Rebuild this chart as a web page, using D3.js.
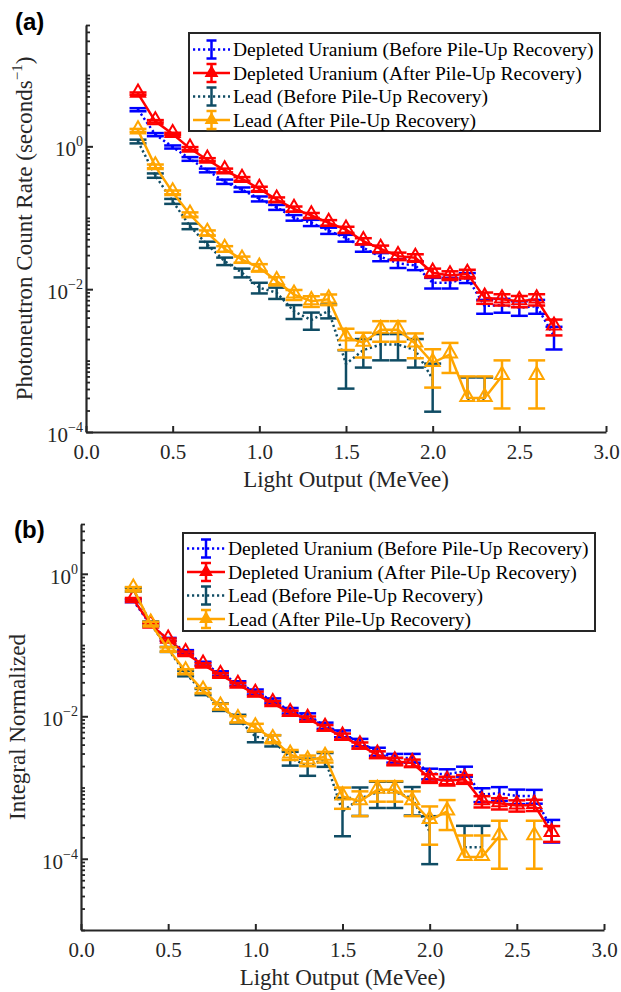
<!DOCTYPE html>
<html><head><meta charset="utf-8">
<script src="https://cdn.jsdelivr.net/npm/d3@7"></script>
<style>body{margin:0;background:#fff}svg{display:block}</style>
</head><body>
<svg id="chart" width="621" height="992"></svg>
<script>
// ---------------- DATA ----------------
const lightOutput = [0.3,0.4,0.5,0.6,0.7,0.8,0.9,1.0,1.1,1.2,1.3,1.4,1.5,1.6,1.7,1.8,1.9,2.0,2.1,2.2,2.3,2.4,2.5,2.6,2.7];

// Panel (a): photoneutron count rate (s^-1)
const duBeforeRate  = [3.26,1.46,0.98,0.667,0.46,0.32,0.248,0.184,0.14,0.10,0.085,0.066,0.052,0.038,0.0283,0.023,0.0215,0.0123,0.0123,0.0145,0.0058,0.0060,0.0055,0.0058,0.0022];
const duAfterRate   = [5.46,2.24,1.49,0.93,0.65,0.46,0.35,0.254,0.18,0.133,0.108,0.085,0.068,0.047,0.0367,0.029,0.0275,0.017,0.0156,0.0164,0.0076,0.0072,0.0068,0.0072,0.0030];
const leadBeforeRate= [1.17,0.39,0.17,0.076,0.042,0.0247,0.017,0.0105,0.0089,0.0049,0.0037,0.0050,0.0009,0.0014,0.00168,0.00168,0.0014,0.00055,null,0.00029,0.00029,null,null,null,null];
const leadAfterRate = [1.67,0.525,0.227,0.111,0.0615,0.0367,0.026,0.020,0.013,0.0084,0.0068,0.0072,0.0021,0.00178,0.0027,0.0027,0.00174,0.00093,0.00122,0.0003,0.0003,0.00061,null,0.00061,null];

// Panel (b): integral normalized
const duBeforeNorm  = [0.42,0.19,0.12,0.08,0.055,0.040,0.029,0.022,0.0165,0.012,0.010,0.0074,0.0057,0.0043,0.0032,0.0026,0.0026,0.00157,0.00154,0.00169,0.0008,0.00083,0.00076,0.00076,0.00026];
const duAfterNorm   = [0.44,0.193,0.119,0.077,0.053,0.038,0.0277,0.0207,0.0153,0.0111,0.0092,0.0069,0.0052,0.0039,0.0029,0.00233,0.0022,0.00135,0.00124,0.00131,0.00064,0.0006,0.00056,0.00057,0.00023];
const leadBeforeNorm= [0.60,0.20,0.087,0.040,0.022,0.0135,0.0092,0.0052,0.0046,0.0026,0.0020,0.0025,0.00046,0.0007,0.00086,0.00086,0.00071,0.00024,null,0.000145,0.000145,null,null,null,null];
const leadAfterNorm = [0.62,0.20,0.088,0.0427,0.023,0.0137,0.0091,0.0070,0.0048,0.0029,0.0024,0.0027,0.00075,0.00064,0.00093,0.00093,0.00064,0.00035,0.00046,0.000106,0.000106,0.000207,null,0.000207,null];

// Relative (fractional) error-bar half lengths
const duBeforeRelErr  = [0.05,0.05,0.05,0.06,0.06,0.07,0.07,0.08,0.08,0.09,0.10,0.10,0.11,0.12,0.13,0.14,0.14,0.17,0.17,0.16,0.22,0.22,0.23,0.22,0.35];
const duAfterRelErr   = [0.04,0.04,0.04,0.05,0.05,0.06,0.06,0.07,0.07,0.08,0.08,0.09,0.10,0.10,0.11,0.12,0.12,0.14,0.14,0.14,0.18,0.18,0.18,0.18,0.25];
const leadBeforeRelErr= [0.06,0.07,0.08,0.09,0.10,0.12,0.14,0.17,0.18,0.22,0.27,0.22,0.55,0.43,0.40,0.40,0.43,0.65,null,1.0,1.0,null,null,null,null];
const leadAfterRelErr = [0.05,0.06,0.06,0.07,0.08,0.09,0.10,0.12,0.13,0.16,0.17,0.17,0.33,0.38,0.32,0.32,0.38,0.55,0.45,1.0,1.0,0.65,null,0.65,null];

const seriesNames = ["Depleted Uranium (Before Pile-Up Recovery)","Depleted Uranium (After Pile-Up Recovery)","Lead (Before Pile-Up Recovery)","Lead (After Pile-Up Recovery)"];
const xTickValues = [0,0.5,1.0,1.5,2.0,2.5,3.0];
const yTickExponents = [0,-2,-4];
const xLabel = "Light Output (MeVee)";

// ---------------- DRAWING ----------------
const svg = d3.select("#chart");
const serif = "'Liberation Serif','Times New Roman',serif";
const sans = "'Liberation Sans',Arial,sans-serif";
const axisColor = "#262626";
const styles = [
  {color:"#0000ff", dash:"2.2,2.8", marker:false},
  {color:"#ff0000", dash:null, marker:true},
  {color:"#0f4c64", dash:"2.2,2.8", marker:false},
  {color:"#ffa500", dash:null, marker:true}
];

const panels = [
  {id:"a", label:"(a)", labelX:15, labelY:30, x0:86, x1:606, yTop:25, yBot:432, yDomain:[1e-4,50],
   yLabelX:32, yLabelSup:true, yLabelText:"Photoneutron Count Rate (seconds",
   data:[duBeforeRate,duAfterRate,leadBeforeRate,leadAfterRate],
   legend:{x:189,y:33,w:411,h:98,rows:[49.5,73,96.5,120],lx0:193,lx1:230,tx:233}},
  {id:"b", label:"(b)", labelX:14, labelY:538, x0:81, x1:604, yTop:524, yBot:930, yDomain:[1e-5,5],
   yLabelX:25, yLabelSup:false, yLabelText:"Integral Normalized",
   data:[duBeforeNorm,duAfterNorm,leadBeforeNorm,leadAfterNorm],
   legend:{x:183,y:533,w:412,h:98,rows:[548.5,572,595.5,619],lx0:187,lx1:225,tx:228}}
];
const relErrs = [duBeforeRelErr,duAfterRelErr,leadBeforeRelErr,leadAfterRelErr];

const tri = d3.symbol().type(d3.symbolTriangle).size(85);
const triSmall = d3.symbol().type(d3.symbolTriangle).size(55);

panels.forEach(p => {
  const g = svg.append("g");
  const x = d3.scaleLinear().domain([0,3]).range([p.x0,p.x1]);
  const y = d3.scaleLog().domain(p.yDomain).range([p.yBot,p.yTop]);
  const clipId = "clip-"+p.id;
  svg.append("clipPath").attr("id",clipId).append("rect")
    .attr("x",p.x0).attr("y",p.yTop).attr("width",p.x1-p.x0).attr("height",p.yBot-p.yTop);

  // series
  const plot = g.append("g").attr("clip-path",`url(#${clipId})`);
  p.data.forEach((vals,si) => {
    const st = styles[si];
    const pts = lightOutput.map((lo,i)=>({x:lo, v:vals[i], e:relErrs[si][i]}));
    const sg = plot.append("g");
    // line
    sg.append("path").datum(pts)
      .attr("d", d3.line().defined(d=>d.v!=null).x(d=>x(d.x)).y(d=>y(d.v)))
      .attr("fill","none").attr("stroke",st.color).attr("stroke-width",2.5)
      .attr("stroke-dasharray", st.dash);
    // error bars
    const cap = 8.5;
    pts.filter(d=>d.v!=null && d.e!=null).forEach(d=>{
      const up = d.v*(1+d.e), lo = d.v*(1-d.e);
      const cx = x(d.x);
      const yUp = y(up);
      const yLo = lo>0 ? y(lo) : y(d.v);
      sg.append("line").attr("x1",cx).attr("x2",cx).attr("y1",yUp).attr("y2",yLo)
        .attr("stroke",st.color).attr("stroke-width",2.5);
      sg.append("line").attr("x1",cx-cap).attr("x2",cx+cap).attr("y1",yUp).attr("y2",yUp)
        .attr("stroke",st.color).attr("stroke-width",2.5);
      if (lo>0) sg.append("line").attr("x1",cx-cap).attr("x2",cx+cap).attr("y1",yLo).attr("y2",yLo)
        .attr("stroke",st.color).attr("stroke-width",2.5);
    });
    if (st.marker) {
      sg.selectAll("path.mk").data(pts.filter(d=>d.v!=null)).join("path").attr("class","mk")
        .attr("d",tri).attr("transform",d=>`translate(${x(d.x)},${y(d.v)-1})`)
        .attr("fill","none").attr("stroke",st.color).attr("stroke-width",2);
    }
  });

  // x axis
  const gx = g.append("g").attr("transform",`translate(0,${p.yBot})`)
    .call(d3.axisBottom(x).tickValues(xTickValues).tickFormat(d3.format(".1f"))
      .tickSizeInner(-6).tickSizeOuter(0).tickPadding(12));
  gx.select(".domain").attr("stroke",axisColor).attr("stroke-width",2.2);
  gx.selectAll(".tick line").attr("stroke",axisColor).attr("stroke-width",2);
  gx.selectAll("text").attr("font-family",serif).attr("font-size",21).attr("fill",axisColor);

  // y axis: minor ticks
  const [lo,hi] = p.yDomain;
  const minors = [], majors = [];
  for (let k=Math.floor(Math.log10(lo)); k<=Math.ceil(Math.log10(hi)); k++) {
    for (let m=1;m<=9;m++){ const v=m*Math.pow(10,k); if(v>=lo*0.999 && v<=hi*1.001){ if(m===1 && yTickExponents.includes(k)) majors.push(v); else minors.push(v);} }
  }
  const gyMinor = g.append("g").attr("transform",`translate(${p.x0},0)`)
    .call(d3.axisLeft(y).tickValues(minors).tickSizeInner(-4).tickSizeOuter(0).tickFormat(()=>""));
  gyMinor.select(".domain").remove();
  gyMinor.selectAll(".tick line").attr("stroke",axisColor).attr("stroke-width",1.8);
  const gy = g.append("g").attr("transform",`translate(${p.x0},0)`)
    .call(d3.axisLeft(y).tickValues(majors).tickSizeInner(-7).tickSizeOuter(0).tickFormat(()=>""));
  gy.select(".domain").attr("stroke",axisColor).attr("stroke-width",2.2);
  gy.selectAll(".tick line").attr("stroke",axisColor).attr("stroke-width",2);
  // y tick labels 10^k
  yTickExponents.forEach(k=>{
    const t = g.append("text").attr("x",p.x0-3).attr("y",y(Math.pow(10,k))+10)
      .attr("text-anchor","end").attr("font-family",serif).attr("fill",axisColor);
    t.append("tspan").attr("font-size",21).text("10");
    t.append("tspan").attr("font-size",14).attr("dy",-10).text(k<0?"\u2212"+(-k):String(k));
  });

  // x label
  g.append("text").attr("x",(p.x0+p.x1)/2).attr("y",p.yBot+55).attr("text-anchor","middle")
    .attr("font-family",serif).attr("font-size",23).attr("fill",axisColor).text(xLabel);
  // y label
  const yl = g.append("text").attr("transform",`translate(${p.yLabelX},${(p.yTop+p.yBot)/2}) rotate(-90)`)
    .attr("text-anchor","middle").attr("font-family",serif).attr("fill",axisColor);
  yl.append("tspan").attr("font-size",23).text(p.yLabelText);
  if (p.yLabelSup) {
    yl.append("tspan").attr("font-size",15).attr("dy",-10).text("\u22121");
    yl.append("tspan").attr("font-size",23).attr("dy",10).text(")");
  }
  // panel label
  g.append("text").attr("x",p.labelX).attr("y",p.labelY).attr("font-family",sans)
    .attr("font-weight","bold").attr("font-size",24).attr("fill","#000").text(p.label);

  // legend
  const L = p.legend;
  const lg = g.append("g");
  lg.append("rect").attr("x",L.x).attr("y",L.y).attr("width",L.w).attr("height",L.h)
    .attr("fill","#fff").attr("stroke",axisColor).attr("stroke-width",2);
  seriesNames.forEach((name,si)=>{
    const st = styles[si], ry = L.rows[si], cx = (L.lx0+L.lx1)/2;
    lg.append("line").attr("x1",L.lx0).attr("x2",L.lx1).attr("y1",ry).attr("y2",ry)
      .attr("stroke",st.color).attr("stroke-width",2.5).attr("stroke-dasharray",st.dash);
    lg.append("line").attr("x1",cx).attr("x2",cx).attr("y1",ry-9).attr("y2",ry+9)
      .attr("stroke",st.color).attr("stroke-width",2.5);
    [ry-9,ry+9].forEach(cy=>lg.append("line").attr("x1",cx-5).attr("x2",cx+5).attr("y1",cy).attr("y2",cy)
      .attr("stroke",st.color).attr("stroke-width",2.5));
    if (st.marker) lg.append("path").attr("d",triSmall).attr("transform",`translate(${cx},${ry})`)
      .attr("fill",st.color).attr("stroke",st.color).attr("stroke-width",1.5);
    lg.append("text").attr("x",L.tx).attr("y",ry+6.5).attr("font-family",serif).attr("font-size",19.5)
      .attr("fill","#000").text(name);
  });
});
</script>
</body></html>
